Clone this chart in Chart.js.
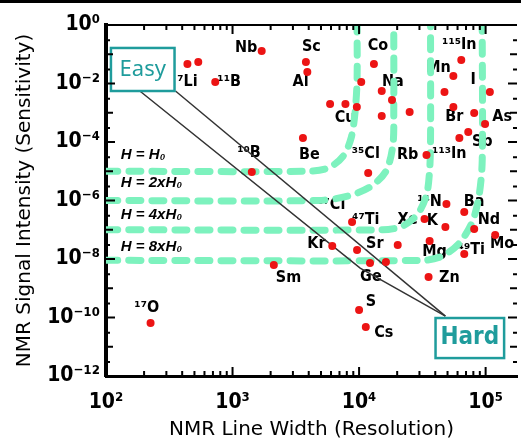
<!DOCTYPE html>
<html>
<head>
<meta charset="utf-8">
<script src="https://cdn.jsdelivr.net/npm/chart.js@4.4.1/dist/chart.umd.min.js"></script>
<style>
  html, body { margin: 0; padding: 0; background: #fff; }
  canvas { display: block; }
</style>
</head>
<body>
<canvas id="nmr-chart" width="521" height="443"></canvas>
<script>
// red dots: line width (x) vs signal intensity (y)
const dotX = [440, 536, 730, 1700, 3800, 3900, 10400, 13100, 15100, 18200, 5900, 7800, 9600, 15100, 25100,
  47300, 55600, 64200, 108000, 55600, 81200, 99000, 72900, 62000, 3600, 34100, 11800, 49000, 67800, 1420,
  8800, 32900, 48100, 81200, 119000, 36100, 20200, 6140, 9640, 12200, 16300, 2120, 67800, 35400, 10000, 11300, 225]
const dotY = [0.0464, 0.0543, 0.01125, 0.129, 0.0543, 0.0247, 0.01125, 0.0464, 5.54e-3, 2.73e-3, 1.99e-3, 1.99e-3, 1.57e-3, 7.74e-4, 1.06e-3,
  5.12e-3, 0.018, 0.0636, 5.12e-3, 1.57e-3, 9.8e-4, 4.12e-4, 2.2e-4, 1.37e-4, 1.37e-4, 3.6e-5, 8.7e-6, 7.6e-7, 4.05e-7, 9.4e-6,
  1.84e-7, 2.33e-7, 1.24e-7, 1.06e-7, 6.6e-8, 4.12e-8, 3.0e-8, 2.78e-8, 2.03e-8, 7.3e-9, 7.9e-9, 6.2e-9, 1.48e-8, 2.43e-9, 1.8e-10, 4.7e-11, 6.5e-11]

// nucleus names and where they sit
const elementNames = ['⁷Li', '¹¹B', 'Nb', 'Sc', 'Al', 'Co', 'Na', '¹¹⁵In', 'Mn', 'I', 'Cu', 'Br', 'As', 'Sb', 'Be', '¹⁰B',
  '³⁵Cl', 'Rb', '¹¹³In', '³⁷Cl', '¹⁴N', 'Ba', '⁴⁷Ti', 'Xe', 'K', 'Nd', 'Kr', 'Sr', 'Mg', '⁴⁹Ti', 'Mo', 'Sm', 'Ge', 'Zn', 'S', 'Cs', '¹⁷O']
const elementX = [440, 940, 1280, 4200, 3450, 14100, 18500, 62000, 42400, 79800, 7770, 56600, 135000, 94000, 4050, 1350,
  11300, 24200, 51700, 6030, 36000, 81000, 11300, 24200, 38000, 106000, 4600, 13300, 39500, 77000, 135000, 2770, 12400, 51700, 12400, 15700, 210]
const elementY = [0.0113, 0.0113, 0.164, 0.177, 0.0113, 0.191, 0.0113, 0.207, 0.0339, 0.0132, 6.6e-4, 7.16e-4, 7.16e-4, 1e-4, 3.6e-5, 4.2e-5,
  3.9e-5, 3.6e-5, 3.9e-5, 7.0e-7, 8.9e-7, 8.9e-7, 2.15e-7, 2.15e-7, 1.99e-7, 2.15e-7, 3.26e-8, 3.26e-8, 1.73e-8, 2.03e-8, 3.26e-8, 2.24e-9, 2.43e-9, 2.24e-9, 3.4e-10, 2.95e-11, 2.1e-10]

// field strength curves (green dashed)
const fieldNames = ['H = H₀', 'H = 2xH₀', 'H = 4xH₀', 'H = 8xH₀']
const fieldLabelX = 131
const fieldLabelY = [3.6e-5, 3.96e-6, 3.2e-7, 2.57e-8]
const curve1X = [100, 3980, 5710, 7490, 8650, 9300, 9640, 9640]
const curve1Y = [1e-5, 1e-5, 1.29e-5, 3.3e-5, 1.37e-4, 1.06e-3, 0.0132, 1]
const curve2X = [100, 4770, 8200, 12200, 16300, 18500, 18800, 18800]
const curve2Y = [1e-6, 1e-6, 1.43e-6, 2.9e-6, 1e-5, 7.9e-5, 1.24e-3, 1]
const curve3X = [100, 15400, 22100, 29000, 34100, 36100, 36700, 36700]
const curve3Y = [1e-7, 1e-7, 1.34e-7, 3.45e-7, 1.54e-6, 1.1e-5, 1.17e-4, 1]
const curve4X = [100, 31800, 45600, 62000, 78400, 88900, 94000, 94000]
const curve4Y = [9e-9, 9e-9, 1.27e-8, 3.5e-8, 1.84e-7, 1.54e-6, 2.4e-5, 1]

// the two black lines from Easy to Hard
const lineAX = [185, 10200, 48100]
const lineAY = [5.54e-3, 4.9e-9, 1.12e-10]
const lineBX = [354, 48100]
const lineBY = [5.54e-3, 1.12e-10]

// ticks
const xTickValues = [1e2, 1e3, 1e4, 1e5]
const xTickLabels = ['10²', '10³', '10⁴', '10⁵']
const yTickValues = [1e-12, 1e-10, 1e-8, 1e-6, 1e-4, 1e-2, 1]
const yTickLabels = ['10⁻¹²', '10⁻¹⁰', '10⁻⁸', '10⁻⁶', '10⁻⁴', '10⁻²', '10⁰']

// Easy / Hard boxes, in data units
const easyBox = { x: [109.4, 348], y: [0.164, 5.54e-3] }
const hardBox = { x: [40200, 140000], y: [9.6e-11, 4.1e-12] }

const narrow = '"Liberation Sans Narrow", "DejaVu Sans Condensed", sans-serif'
const teal = '#1f9c9c'
const green = 'rgb(125, 242, 190)'

function zip(xs, ys) {
  return xs.map((x, i) => ({ x: x, y: ys[i] }))
}

function curve(xs, ys) {
  return {
    data: zip(xs, ys), showLine: true, pointRadius: 0, borderColor: green, borderWidth: 7,
    borderDash: [12, 11], borderCapStyle: 'round', tension: 0.3, order: 2
  }
}

function blackLine(xs, ys) {
  return { data: zip(xs, ys), showLine: true, pointRadius: 0, borderColor: '#333', borderWidth: 1.5, order: 1 }
}

function toPx(chart, xv, yv) {
  return [chart.scales.x.getPixelForValue(xv), chart.scales.y.getPixelForValue(yv)]
}

function drawBox(chart, box, text, font) {
  const ctx = chart.ctx
  const [x0, y0] = toPx(chart, box.x[0], box.y[0])
  const [x1, y1] = toPx(chart, box.x[1], box.y[1])
  ctx.fillStyle = '#fff'
  ctx.fillRect(x0, y0, x1 - x0, y1 - y0)
  ctx.strokeStyle = teal
  ctx.lineWidth = 2.5
  ctx.strokeRect(x0, y0, x1 - x0, y1 - y0)
  ctx.fillStyle = teal
  ctx.font = font
  ctx.textAlign = 'center'
  ctx.textBaseline = 'middle'
  ctx.fillText(text, (x0 + x1) / 2, (y0 + y1) / 2)
}

const extras = {
  id: 'extras',
  beforeDatasetsDraw(chart) {
    const ctx = chart.ctx
    ctx.save()
    ctx.fillStyle = '#000'
    ctx.font = 'bold 16px ' + narrow
    ctx.textAlign = 'center'
    ctx.textBaseline = 'middle'
    elementNames.forEach((name, i) => {
      const [x, y] = toPx(chart, elementX[i], elementY[i])
      ctx.fillText(name, x, y)
    })
    ctx.font = 'italic bold 15px "Liberation Sans", sans-serif'
    ctx.textAlign = 'left'
    fieldNames.forEach((name, i) => {
      const [x, y] = toPx(chart, fieldLabelX, fieldLabelY[i])
      ctx.fillText(name, x, y)
    })
    ctx.restore()
  },
  afterDatasetsDraw(chart) {
    chart.ctx.save()
    drawBox(chart, easyBox, 'Easy', '22px "Noto Sans", sans-serif')
    drawBox(chart, hardBox, 'Hard', 'bold 24px ' + narrow)
    chart.ctx.restore()
  },
  afterDraw(chart) {
    const ctx = chart.ctx
    const area = chart.chartArea
    const xs = chart.scales.x
    const ys = chart.scales.y
    ctx.save()
    ctx.strokeStyle = '#000'
    ctx.fillStyle = '#000'
    // black strip along the top of the picture
    ctx.fillRect(0, 0, chart.width, 3)
    // top axis line
    ctx.lineWidth = 2
    ctx.beginPath()
    ctx.moveTo(area.left, area.top)
    ctx.lineTo(area.right, area.top)
    ctx.stroke()
    // x ticks, inward, bottom and top
    for (let n = 2; n <= 5; n++) {
      for (let k = 1; k <= 9; k++) {
        const v = k * Math.pow(10, n)
        if (v > xs.max) continue
        const p = xs.getPixelForValue(v)
        const len = k === 1 ? 9 : 5
        ctx.beginPath()
        ctx.moveTo(p, area.bottom)
        ctx.lineTo(p, area.bottom - len)
        ctx.moveTo(p, area.top)
        ctx.lineTo(p, area.top + len)
        ctx.stroke()
      }
    }
    // y ticks, inward, left and right
    for (let n = -12; n <= 0; n++) {
      [1, 3].forEach(k => {
        const v = k * Math.pow(10, n)
        if (v > ys.max) return
        const p = ys.getPixelForValue(v)
        const len = k === 1 ? (n % 2 === 0 ? 9 : 7) : 4
        ctx.beginPath()
        ctx.moveTo(area.left, p)
        ctx.lineTo(area.left + len, p)
        ctx.moveTo(area.right, p)
        ctx.lineTo(area.right - len, p)
        ctx.stroke()
      })
    }
    ctx.restore()
  }
}

const tickFont = { family: narrow, size: 21, weight: 'bold' }
const titleFont = { family: '"DejaVu Sans", sans-serif', size: 20 }

new Chart(document.getElementById('nmr-chart').getContext('2d'), {
  type: 'scatter',
  data: {
    datasets: [
      { data: zip(dotX, dotY), pointRadius: 4, pointBackgroundColor: 'rgb(236, 20, 20)', pointBorderWidth: 0, order: 0 },
      blackLine(lineAX, lineAY),
      blackLine(lineBX, lineBY),
      curve(curve1X, curve1Y),
      curve(curve2X, curve2Y),
      curve(curve3X, curve3Y),
      curve(curve4X, curve4Y)
    ]
  },
  options: {
    responsive: false,
    animation: false,
    layout: { padding: { top: 25, right: 1, left: 0, bottom: 0 } },
    plugins: { legend: { display: false }, tooltip: { enabled: false } },
    scales: {
      x: {
        type: 'logarithmic',
        min: 100,
        max: 1.77e5,
        grid: { display: false, drawTicks: false },
        border: { display: true, width: 3, color: '#000' },
        afterBuildTicks: scale => { scale.ticks = xTickValues.map(v => ({ value: v })) },
        afterFit: scale => { scale.height = 67 },
        ticks: {
          color: '#000', font: tickFont, padding: 14, maxRotation: 0, autoSkip: false,
          callback: (value, i) => xTickLabels[i]
        },
        title: { display: true, text: 'NMR Line Width (Resolution)', color: '#000', font: titleFont, padding: { top: 0, bottom: 1 } }
      },
      y: {
        type: 'logarithmic',
        min: 1e-12,
        max: 1,
        grid: { display: false, drawTicks: false },
        border: { display: true, width: 4, color: '#000' },
        afterBuildTicks: scale => { scale.ticks = yTickValues.map(v => ({ value: v })) },
        afterFit: scale => { scale.width = 106 },
        ticks: {
          color: '#000', font: tickFont, padding: 6, autoSkip: false,
          callback: (value, i) => yTickLabels[i]
        },
        title: { display: true, text: 'NMR Signal Intensity (Sensitivity)', color: '#000', font: titleFont, padding: { top: 13, bottom: 0 } }
      }
    }
  },
  plugins: [extras]
})
</script>
</body>
</html>
